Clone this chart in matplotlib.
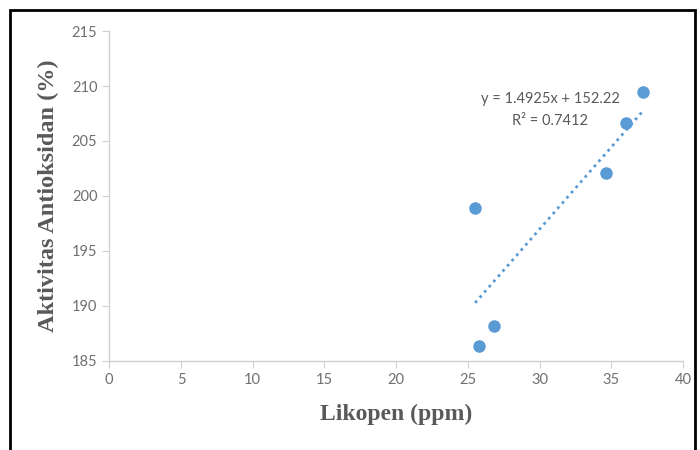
import matplotlib.pyplot as plt
import numpy as np
from matplotlib.patches import Rectangle

# Likopen (ppm) vs aktivitas antioksidan (%)
likopen = [25.5, 25.8, 26.8, 34.6, 36.0, 37.2]
aktivitas = [198.9, 186.4, 188.2, 202.1, 206.6, 209.5]
slope, intercept = 1.4925, 152.22
eq_text = "y = 1.4925x + 152.22"
r2_text = "R² = 0.7412"
xticks = [0, 5, 10, 15, 20, 25, 30, 35, 40]
yticks = [185, 190, 195, 200, 205, 210, 215]

grey = '#595959'
blue = '#5b9bd5'

fig = plt.figure(figsize=(7, 4.5), dpi=100)
ax = fig.add_axes([0.156, 0.198, 0.82, 0.733])

ax.scatter(likopen, aktivitas, s=64, color=blue, zorder=3)

# linear trendline over the data range
xs = np.array([min(likopen), max(likopen)])
ax.plot(xs, slope * xs + intercept, linestyle=(0, (1, 1.5)), color=blue, linewidth=2)

ax.text(0.768, 0.794, eq_text, transform=ax.transAxes, ha='center', va='center',
        fontsize=10.5, color=grey, family='Lato')
ax.text(0.768, 0.727, r2_text, transform=ax.transAxes, ha='center', va='center',
        fontsize=10.5, color=grey, family='Lato')

ax.set_xlim(0, 40)
ax.set_ylim(185, 215)
ax.set_xticks(xticks)
ax.set_yticks(yticks)
for lab in ax.get_xticklabels() + ax.get_yticklabels():
    lab.set_family('Lato')
ax.tick_params(colors='#6f6f6f', labelsize=10.5, length=5, width=0.8)
ax.tick_params(axis='both', color='#d0d0d0')

for s in ['top', 'right']:
    ax.spines[s].set_visible(False)
for s in ['left', 'bottom']:
    ax.spines[s].set_color('#d0d0d0')
    ax.spines[s].set_linewidth(1)

ax.set_xlabel('Likopen (ppm)', family='Liberation Serif', fontweight='bold',
              fontsize=17, color=grey, labelpad=12)
ax.set_ylabel('Aktivitas Antioksidan (%)', family='Liberation Serif', fontweight='bold',
              fontsize=17.5, color=grey, labelpad=9)

# black frame around the chart, bottom edge cut off
fig.patches.append(Rectangle((10 / 700, -0.1), 685 / 700, 1.1 - 10 / 450,
                             transform=fig.transFigure, fill=False,
                             edgecolor='black', linewidth=2))

fig.savefig('out.png', dpi=100)
